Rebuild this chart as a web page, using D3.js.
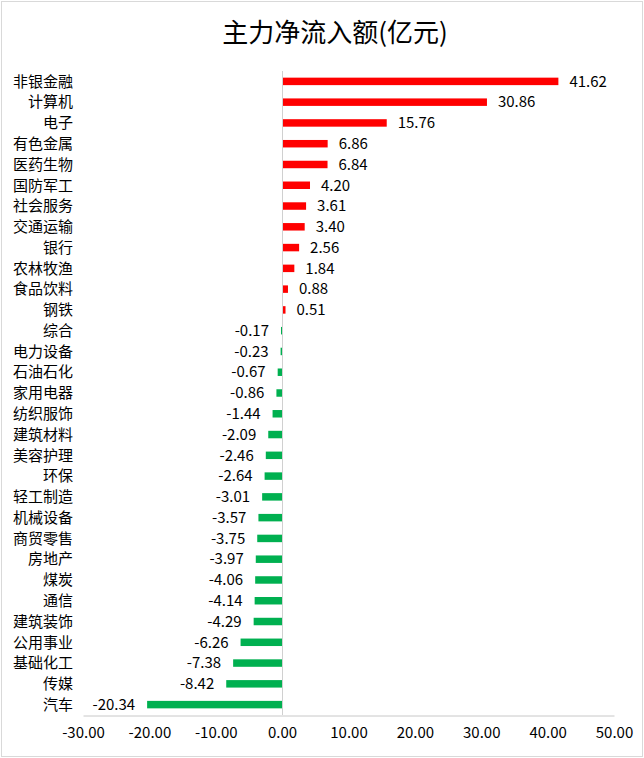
<!DOCTYPE html>
<html><head><meta charset="utf-8">
<script src="https://cdn.jsdelivr.net/npm/d3@7"></script>
<style>
html,body{margin:0;padding:0;background:#fff;}
text{font-family:"Noto Sans CJK SC","Microsoft YaHei",sans-serif;}
</style></head>
<body>
<svg id="chart" width="644" height="758"></svg>
<script>
const title = "主力净流入额(亿元)";
const categories = ["非银金融","计算机","电子","有色金属","医药生物","国防军工","社会服务","交通运输","银行","农林牧渔","食品饮料","钢铁","综合","电力设备","石油石化","家用电器","纺织服饰","建筑材料","美容护理","环保","轻工制造","机械设备","商贸零售","房地产","煤炭","通信","建筑装饰","公用事业","基础化工","传媒","汽车"];
const values = [41.62,30.86,15.76,6.86,6.84,4.20,3.61,3.40,2.56,1.84,0.88,0.51,-0.17,-0.23,-0.67,-0.86,-1.44,-2.09,-2.46,-2.64,-3.01,-3.57,-3.75,-3.97,-4.06,-4.14,-4.29,-6.26,-7.38,-8.42,-20.34];
const xTicks = [-30,-20,-10,0,10,20,30,40,50];

const svg = d3.select("#chart");
const W = 644, H = 758;
const fmt = v => v.toFixed(2);

svg.append("rect").attr("x",1.5).attr("y",1.5).attr("width",W-3).attr("height",H-3)
  .attr("fill","#fff").attr("stroke","#d9d9d9").attr("stroke-width",1);

svg.append("text").attr("x",335).attr("y",42).attr("text-anchor","middle")
  .attr("font-size",26).attr("fill","#000").text(title);

const x = d3.scaleLinear().domain([-30,50]).range([83,614]);
const y = d3.scaleBand().domain(categories).range([71,715]).paddingInner(0.64).paddingOuter(0.32);

const data = categories.map((c,i)=>({c, v: values[i]}));

// bars
svg.append("g").selectAll("rect").data(data).join("rect")
  .attr("x", d => x(Math.min(0,d.v)))
  .attr("y", d => y(d.c))
  .attr("width", d => Math.abs(x(d.v)-x(0)))
  .attr("height", y.bandwidth())
  .attr("fill", d => d.v >= 0 ? "#FF0000" : "#00B050");

// zero line
svg.append("line").attr("x1",Math.round(x(0))+0.5).attr("x2",Math.round(x(0))+0.5)
  .attr("y1",71).attr("y2",715).attr("stroke","#d0d0d0").attr("stroke-width",1);

// bottom axis
const xAxis = d3.axisBottom(x).tickValues(xTicks).tickSize(0).tickPadding(12)
  .tickFormat(fmt);
const gx = svg.append("g").attr("transform","translate(0,715.5)").call(xAxis);
gx.select(".domain").attr("stroke","#c8c8c8");
gx.selectAll("text").attr("font-size",15).attr("fill","#000")
  .style("font-family",'"Noto Sans CJK SC",sans-serif');

// category labels
svg.append("g").selectAll("text").data(data).join("text")
  .attr("x",73).attr("y", d => y(d.c)+y.bandwidth()/2)
  .attr("dy","0.35em").attr("text-anchor","end").attr("font-size",15).attr("fill","#000")
  .text(d => d.c);

// value labels
svg.append("g").selectAll("text").data(data).join("text")
  .attr("x", d => d.v >= 0 ? x(d.v)+11 : x(d.v)-12)
  .attr("y", d => y(d.c)+y.bandwidth()/2)
  .attr("dy","0.35em")
  .attr("text-anchor", d => d.v >= 0 ? "start" : "end")
  .attr("font-size",15).attr("fill","#000")
  .text(d => fmt(d.v));
</script>
</body></html>
